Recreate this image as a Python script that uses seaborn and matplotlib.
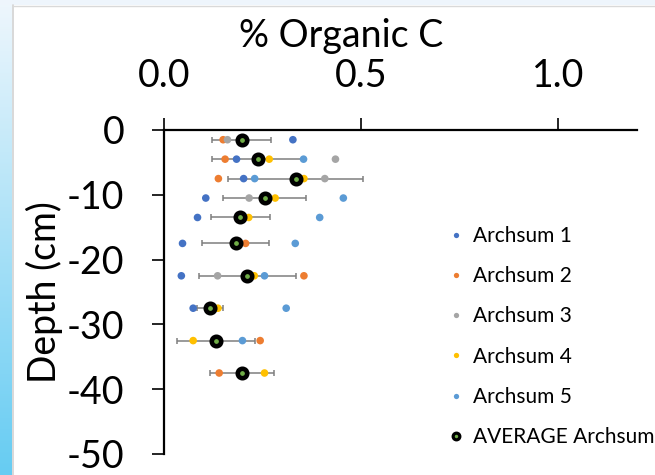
import numpy as np
import pandas as pd
import matplotlib
matplotlib.use("Agg")
import matplotlib.pyplot as plt
from matplotlib.lines import Line2D
from matplotlib.patches import Rectangle
import seaborn as sns

# Sample depths (cm, negative downward)
depth = [-1.5, -4.5, -7.5, -10.5, -13.5, -17.5, -22.5, -27.5, -32.5, -37.5]

# % organic carbon per core
archsum_1 = [0.327, 0.184, 0.202, 0.106, 0.085, 0.047, 0.044, 0.074, np.nan, np.nan]
archsum_2 = [0.150, 0.155, 0.138, np.nan, np.nan, 0.207, 0.355, np.nan, 0.244, 0.140]
archsum_3 = [0.161, 0.435, 0.408, 0.216, np.nan, np.nan, 0.136, np.nan, np.nan, np.nan]
archsum_4 = [np.nan, 0.267, 0.355, 0.282, 0.215, np.nan, 0.229, 0.137, 0.074, 0.255]
archsum_5 = [np.nan, 0.354, 0.230, 0.455, 0.395, 0.333, 0.255, 0.310, 0.199, np.nan]

# Mean of cores and its standard deviation
avg_archsum = [0.197, 0.239, 0.334, 0.255, 0.194, 0.182, 0.211, 0.117, 0.131, 0.197]
avg_sd = [0.075, 0.117, 0.171, 0.106, 0.075, 0.085, 0.123, 0.033, 0.099, 0.081]

series_names = ["Archsum 1", "Archsum 2", "Archsum 3", "Archsum 4", "Archsum 5"]
series_values = [archsum_1, archsum_2, archsum_3, archsum_4, archsum_5]
series_colors = ["#4472C4", "#ED7D31", "#A5A5A5", "#FFC000", "#5B9BD5"]

x_ticks = [0.0, 0.5, 1.0]
y_ticks = [0, -10, -20, -30, -40, -50]

long = pd.DataFrame(
    [(name, d, v) for name, vals in zip(series_names, series_values)
     for d, v in zip(depth, vals)],
    columns=["core", "depth", "oc"],
).dropna()

sns.set_theme(style="white")
plt.rcParams["font.family"] = ["Lato", "DejaVu Sans"]

W, H = 655, 475
fig = plt.figure(figsize=(W / 100, H / 100), dpi=100)
fig.patch.set_facecolor("white")

# slide frame: light strip on top and blue gradient on the left
fig.patches.append(Rectangle((0, 1 - 5 / H), 1, 5 / H, transform=fig.transFigure,
                             facecolor="#EEF5FC", edgecolor="none", zorder=0))
grad_ax = fig.add_axes([0, 0, 12 / W, 1 - 5 / H])
grad = np.linspace(0, 1, 256)[:, None]
c_top = np.array([0.93, 0.965, 0.99])
c_bot = np.array([0.40, 0.80, 0.95])
img = c_top[None, None, :] * (1 - grad[..., None]) + c_bot[None, None, :] * grad[..., None]
grad_ax.imshow(img, aspect="auto", extent=[0, 1, 0, 1])
grad_ax.set_axis_off()
fig.add_artist(Line2D([12.5 / W, 12.5 / W], [0, 1 - 5 / H], transform=fig.transFigure,
                      color="#D2D2D2", lw=1.2))
fig.add_artist(Line2D([12.5 / W, 1], [1 - 5.5 / H, 1 - 5.5 / H], transform=fig.transFigure,
                      color="#D9D9D9", lw=1.0))

ax_l, ax_r, ax_t, ax_b = 164, 637, 130, 454
ax = fig.add_axes([ax_l / W, 1 - ax_b / H, (ax_r - ax_l) / W, (ax_b - ax_t) / H])
ax.set_facecolor("none")

# error bars of the mean
ax.errorbar(avg_archsum, depth, xerr=avg_sd, fmt="none", ecolor="#7F7F7F",
            elinewidth=1.1, capsize=2.3, capthick=1.1, zorder=2)

sns.scatterplot(data=long, x="oc", y="depth", hue="core", hue_order=series_names,
                palette=series_colors, s=30, linewidth=0, legend=False, ax=ax, zorder=3)

ax.plot(avg_archsum, depth, linestyle="none", marker="o", markersize=6.8,
        markerfacecolor="#70AD47", markeredgecolor="black", markeredgewidth=3.3, zorder=4)

ax.set_xlim(0, 1.2)
ax.set_ylim(-50, 0)
ax.set_xticks(x_ticks)
ax.set_xticklabels([f"{v:.1f}" for v in x_ticks])
ax.set_yticks(y_ticks)
ax.set_yticklabels([str(v) for v in y_ticks])

for side in ["right", "bottom"]:
    ax.spines[side].set_visible(False)
for side in ["top", "left"]:
    ax.spines[side].set_color("black")
    ax.spines[side].set_linewidth(1.6)

ax.xaxis.tick_top()
ax.tick_params(axis="x", which="both", direction="out", length=8.6, width=1.2,
               color="black", pad=17, labelsize=27, labelcolor="black",
               top=True, bottom=False)
ax.tick_params(axis="y", which="both", direction="out", length=8.6, width=1.2,
               color="black", pad=20, labelsize=27, labelcolor="black", left=True)

ax.set_xlabel("% Organic C", fontsize=27, color="black")
ax.xaxis.set_label_position("top")
ax.xaxis.label.set_va("baseline")
ax.xaxis.set_label_coords((341 - ax_l) / (ax_r - ax_l), 1 + (ax_t - 47) / (ax_b - ax_t))

ax.set_ylabel("Depth (cm)", fontsize=27, color="black")
ax.yaxis.label.set_va("center")
ax.yaxis.set_label_coords((44 - ax_l) / (ax_r - ax_l), 0.5)

handles = [Line2D([], [], linestyle="none", marker="o", markersize=3.8,
                  markerfacecolor=c, markeredgewidth=0) for c in series_colors]
handles.append(Line2D([], [], linestyle="none", marker="o", markersize=4.8,
                      markerfacecolor="#70AD47", markeredgecolor="black",
                      markeredgewidth=2.3))
labels = series_names + ["AVERAGE Archsum"]
leg = fig.legend(handles, labels, loc="upper left",
                 bbox_to_anchor=(450 / W, 1 - 226 / H), frameon=False,
                 fontsize=15, handlelength=0.6, handletextpad=0.5,
                 labelspacing=0.97, borderpad=0, borderaxespad=0)
for t in leg.get_texts():
    t.set_color("black")

fig.savefig("out.png", dpi=100, facecolor="white")
